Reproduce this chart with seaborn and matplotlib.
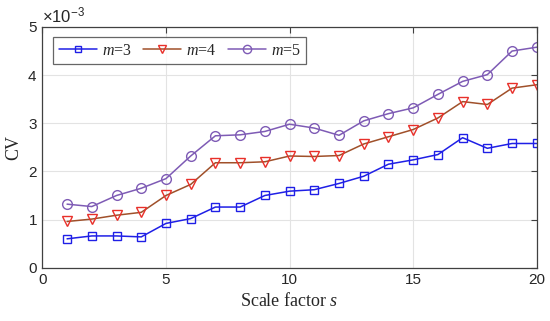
import numpy as np
import pandas as pd
import matplotlib
matplotlib.use("Agg")
import matplotlib.pyplot as plt
import seaborn as sns
from matplotlib.ticker import ScalarFormatter

# values, in units of 1e-3
scale = list(range(1, 21))
cv_m3 = [0.60, 0.66, 0.66, 0.64, 0.92, 1.02, 1.26, 1.26, 1.50, 1.59,
         1.62, 1.75, 1.90, 2.15, 2.24, 2.35, 2.70, 2.48, 2.58, 2.58]
cv_m4 = [0.96, 1.01, 1.09, 1.15, 1.50, 1.73, 2.18, 2.18, 2.20, 2.32,
         2.31, 2.33, 2.57, 2.72, 2.87, 3.11, 3.45, 3.39, 3.73, 3.80]
cv_m5 = [1.32, 1.27, 1.50, 1.65, 1.85, 2.32, 2.74, 2.76, 2.83, 2.98,
         2.90, 2.75, 3.05, 3.20, 3.32, 3.60, 3.87, 4.01, 4.50, 4.58]

sns.set_style("white")
plt.rcParams['font.family'] = ['Liberation Sans', 'DejaVu Sans']
plt.rcParams['mathtext.fontset'] = 'custom'
plt.rcParams['mathtext.rm'] = 'Liberation Sans'
plt.rcParams['mathtext.it'] = 'Liberation Serif:italic'

df = pd.DataFrame({"s": scale,
                   "m3": np.array(cv_m3) * 1e-3,
                   "m4": np.array(cv_m4) * 1e-3,
                   "m5": np.array(cv_m5) * 1e-3})

fig = plt.figure(figsize=(5.5, 3.21), dpi=100)
ax = fig.add_axes([0.077, 0.166, 0.899, 0.75])

sns.lineplot(data=df, x="s", y="m3", ax=ax, color="#1f1fe6", lw=1.1,
             marker="s", ms=5.5, mfc="none", mec="#1f1fe6", mew=1.0,
             label=r"$m$=3")
sns.lineplot(data=df, x="s", y="m4", ax=ax, color="#a0502a", lw=1.1,
             marker="v", ms=7, mfc="none", mec="#e8302a", mew=1.0,
             label=r"$m$=4")
sns.lineplot(data=df, x="s", y="m5", ax=ax, color="#7e5bb5", lw=1.1,
             marker="o", ms=7, mfc="none", mec="#7e5bb5", mew=1.0,
             label=r"$m$=5")

ax.set_xlim(0, 20)
ax.set_ylim(0, 5e-3)
ax.set_xticks([0, 5, 10, 15, 20])
ax.set_yticks(np.arange(0, 6) * 1e-3)
fmt = ScalarFormatter(useMathText=True)
fmt.set_powerlimits((-3, -3))
ax.yaxis.set_major_formatter(fmt)
ax.yaxis.get_offset_text().set_fontsize(12)

ax.grid(True, color="#e3e3e3", lw=0.8)
ax.tick_params(direction="in", top=True, right=True, labelsize=11,
               color="#404040", length=4)
for sp in ax.spines.values():
    sp.set_color("#404040")
    sp.set_linewidth(0.9)

ax.set_xlabel(r"Scale factor $s$", family="Liberation Serif", fontsize=13)
ax.set_ylabel("CV", family="Liberation Serif", fontsize=13)

leg = ax.legend(loc="upper left", ncol=3, bbox_to_anchor=(0.022, 0.958),
                frameon=True, fancybox=False, edgecolor="#404040",
                fontsize=11.5, handlelength=2.4, columnspacing=0.7,
                handletextpad=0.3, borderpad=0.35, borderaxespad=0.0,
                markerscale=0.85)
leg.get_frame().set_linewidth(0.9)
for t in leg.get_texts():
    t.set_family("Liberation Serif")

fig.savefig("out.png", dpi=100)
